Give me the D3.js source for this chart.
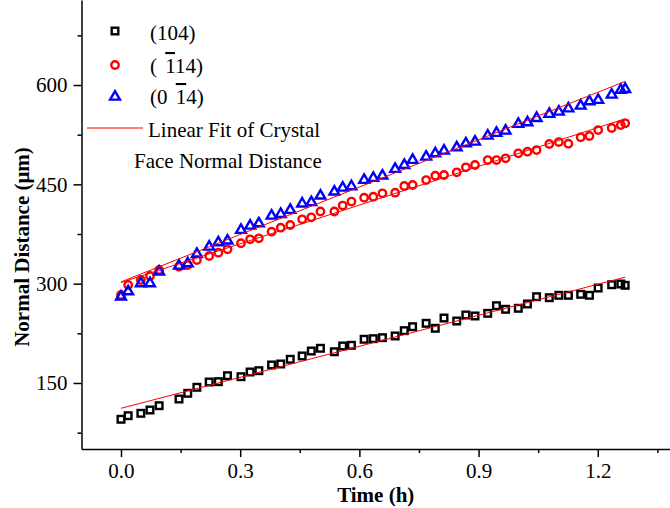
<!DOCTYPE html>
<html>
<head>
<meta charset="utf-8">
<script src="https://cdn.jsdelivr.net/npm/d3@7/dist/d3.min.js"></script>
<style>
  html, body { margin: 0; padding: 0; background: #fff; }
  svg { display: block; }
  text { font-family: "Liberation Serif", "Times New Roman", serif; fill: #000; }
</style>
</head>
<body>
<svg id="chart" width="670" height="508"></svg>
<script>
// ---- data ----
const times = [0.000, 0.018, 0.050, 0.073, 0.096, 0.146, 0.168, 0.191, 0.222, 0.245,
  0.268, 0.302, 0.325, 0.347, 0.379, 0.402, 0.426, 0.456, 0.479, 0.502,
  0.537, 0.558, 0.580, 0.612, 0.635, 0.658, 0.690, 0.713, 0.734, 0.768,
  0.791, 0.813, 0.845, 0.868, 0.891, 0.923, 0.945, 0.968, 1.000, 1.023,
  1.046, 1.078, 1.102, 1.126, 1.157, 1.179, 1.201, 1.235, 1.258, 1.269];

const face104 = [95.2, 100.6, 104.2, 109.2, 115.7, 125.8, 134.4, 143.5, 151.5, 152.0,
  161.0, 159.5, 166.6, 168.6, 177.2, 178.7, 185.8, 190.8, 198.3, 202.4,
  197.2, 205.9, 206.9, 216.0, 216.9, 218.4, 221.0, 229.0, 235.0, 240.1,
  232.6, 248.1, 243.6, 252.7, 251.2, 255.2, 266.7, 261.3, 262.8, 269.3,
  280.3, 278.8, 282.4, 282.4, 283.9, 282.4, 293.4, 298.4, 299.5, 297.5];

const faceBar114 = [283.0, 298.0, 305.5, 311.6, 320.6, 325.6, 328.0, 335.7, 341.8, 346.8,
  351.9, 361.0, 367.0, 368.5, 378.5, 384.5, 388.6, 397.2, 400.2, 409.0,
  409.0, 418.0, 424.0, 429.8, 431.3, 436.5, 437.4, 447.5, 449.0, 456.5,
  463.0, 464.1, 468.2, 475.7, 479.2, 486.7, 486.7, 489.3, 496.9, 499.3,
  501.8, 510.9, 513.9, 511.4, 521.0, 523.0, 532.0, 535.1, 539.6, 542.2];

const face0Bar14 = [281.4, 289.4, 301.5, 301.5, 319.1, 328.2, 331.7, 345.8, 356.9, 363.4,
  366.0, 382.1, 388.6, 392.1, 403.7, 406.2, 412.3, 422.0, 424.0, 434.0,
  440.0, 446.0, 448.0, 457.6, 460.6, 464.1, 474.2, 480.2, 487.8, 492.8,
  497.8, 501.8, 506.8, 512.9, 515.4, 524.5, 528.6, 532.0, 542.2, 544.6,
  551.2, 557.3, 560.7, 565.7, 569.8, 576.3, 578.4, 586.4, 593.5, 595.0];

const xTicks = [0.0, 0.3, 0.6, 0.9, 1.2];
const xMinorTicks = [0.15, 0.45, 0.75, 1.05, 1.35];
const yTicks = [150, 300, 450, 600];
const yMinorTicks = [75, 225, 375, 525, 675];

const xTitle = "Time (h)";
const yTitle = "Normal Distance (\u03bcm)";
const fitLabel = ["Linear Fit of Crystal", "Face Normal Distance"];

// ---- layout ----
const svg = d3.select("#chart");
const axisX0 = 81.5, axisX1 = 670, axisYBottom = 449, axisYTop = 0;

const x = d3.scaleLinear().domain([-0.0994, 1.3818]).range([axisX0, axisX1]);
const y = d3.scaleLinear().domain([50.3, 728.4]).range([axisYBottom, axisYTop]);

// ---- axes ----
const fontSize = 21;
svg.append("g").attr("transform", `translate(0,${axisYBottom})`)
  .call(d3.axisBottom(x).tickValues(xTicks).tickFormat(d3.format(".1f"))
    .tickSize(8).tickSizeOuter(0).tickPadding(6));
svg.append("g").attr("transform", `translate(0,${axisYBottom})`)
  .call(d3.axisBottom(x).tickValues(xMinorTicks).tickFormat("").tickSize(4).tickSizeOuter(0))
  .select(".domain").remove();

svg.append("g").attr("transform", `translate(${axisX0},0)`)
  .call(d3.axisLeft(y).tickValues(yTicks).tickFormat(d3.format("d"))
    .tickSize(8).tickSizeOuter(0).tickPadding(6));
svg.append("g").attr("transform", `translate(${axisX0},0)`)
  .call(d3.axisLeft(y).tickValues(yMinorTicks).tickFormat("").tickSize(4).tickSizeOuter(0))
  .select(".domain").remove();

svg.selectAll(".domain, .tick line").attr("stroke", "#000").attr("stroke-width", 1.5);
svg.selectAll(".tick text").attr("font-family", "Liberation Serif, serif")
  .attr("font-size", fontSize).attr("fill", "#000");

svg.append("text")
  .attr("x", (axisX0 + axisX1) / 2).attr("y", 502)
  .attr("text-anchor", "middle").attr("font-weight", "bold").attr("font-size", fontSize)
  .text(xTitle);

svg.append("text")
  .attr("transform", "translate(29,247) rotate(-90)")
  .attr("text-anchor", "middle").attr("font-weight", "bold").attr("font-size", fontSize)
  .text(yTitle);

// ---- markers ----
const sw = 2.4;
function drawSquare(g, cx, cy) {
  g.append("rect").attr("x", cx - 3.3).attr("y", cy - 3.3).attr("width", 6.6).attr("height", 6.6)
    .attr("fill", "none").attr("stroke", "#000").attr("stroke-width", sw);
}
function drawCircle(g, cx, cy) {
  g.append("circle").attr("cx", cx).attr("cy", cy).attr("r", 3.7)
    .attr("fill", "none").attr("stroke", "#ff0000").attr("stroke-width", sw);
}
const triPath = "M0,-4.9L4.9,3.6L-4.9,3.6Z";
function drawTri(g, cx, cy) {
  g.append("path").attr("d", triPath).attr("transform", `translate(${cx},${cy})`)
    .attr("fill", "none").attr("stroke", "#0000ff").attr("stroke-width", sw)
    .attr("stroke-linejoin", "miter");
}

const series = [
  { vals: face104, draw: drawSquare },
  { vals: faceBar114, draw: drawCircle },
  { vals: face0Bar14, draw: drawTri }
];

const markersG = svg.append("g");
series.forEach(s => {
  const g = markersG.append("g");
  s.vals.forEach((v, i) => s.draw(g, x(times[i]), y(v)));
});

// ---- linear fits (least squares on each series) ----
function linFit(xs, ys) {
  const mx = d3.mean(xs), my = d3.mean(ys);
  let sxy = 0, sxx = 0;
  xs.forEach((xv, i) => { sxy += (xv - mx) * (ys[i] - my); sxx += (xv - mx) * (xv - mx); });
  const b = sxy / sxx;
  return { a: my - b * mx, b };
}
const tMin = d3.min(times), tMax = d3.max(times);
const line = d3.line().x(d => x(d[0])).y(d => y(d[1]));
series.forEach(s => {
  const f = linFit(times, s.vals);
  svg.append("path")
    .attr("d", line([[tMin, f.a + f.b * tMin], [tMax, f.a + f.b * tMax]]))
    .attr("fill", "none").attr("stroke", "#ff0000").attr("stroke-width", 1);
});

// ---- legend ----
const leg = svg.append("g");
drawSquare(leg, 115, 31);
drawCircle(leg, 115, 65);
drawTri(leg, 115, 96);

leg.append("text").attr("x", 150).attr("y", 40).attr("font-size", fontSize).text("(104)");

const t2 = leg.append("text").attr("x", 150).attr("y", 73).attr("font-size", fontSize);
t2.append("tspan").text("(\u00a0");
t2.append("tspan").attr("dx", 3).style("text-decoration", "overline").text("1");
t2.append("tspan").text("14)");

const t3 = leg.append("text").attr("x", 150).attr("y", 104).attr("font-size", fontSize);
t3.append("tspan").text("(0\u00a0");
t3.append("tspan").attr("dx", 3).style("text-decoration", "overline").text("1");
t3.append("tspan").text("4)");

leg.append("line").attr("x1", 87).attr("x2", 143).attr("y1", 128).attr("y2", 128)
  .attr("stroke", "#ff0000").attr("stroke-width", 1);
leg.append("text").attr("x", 148).attr("y", 137).attr("font-size", fontSize).text(fitLabel[0]);
leg.append("text").attr("x", 134).attr("y", 168).attr("font-size", fontSize).text(fitLabel[1]);
</script>
</body>
</html>
